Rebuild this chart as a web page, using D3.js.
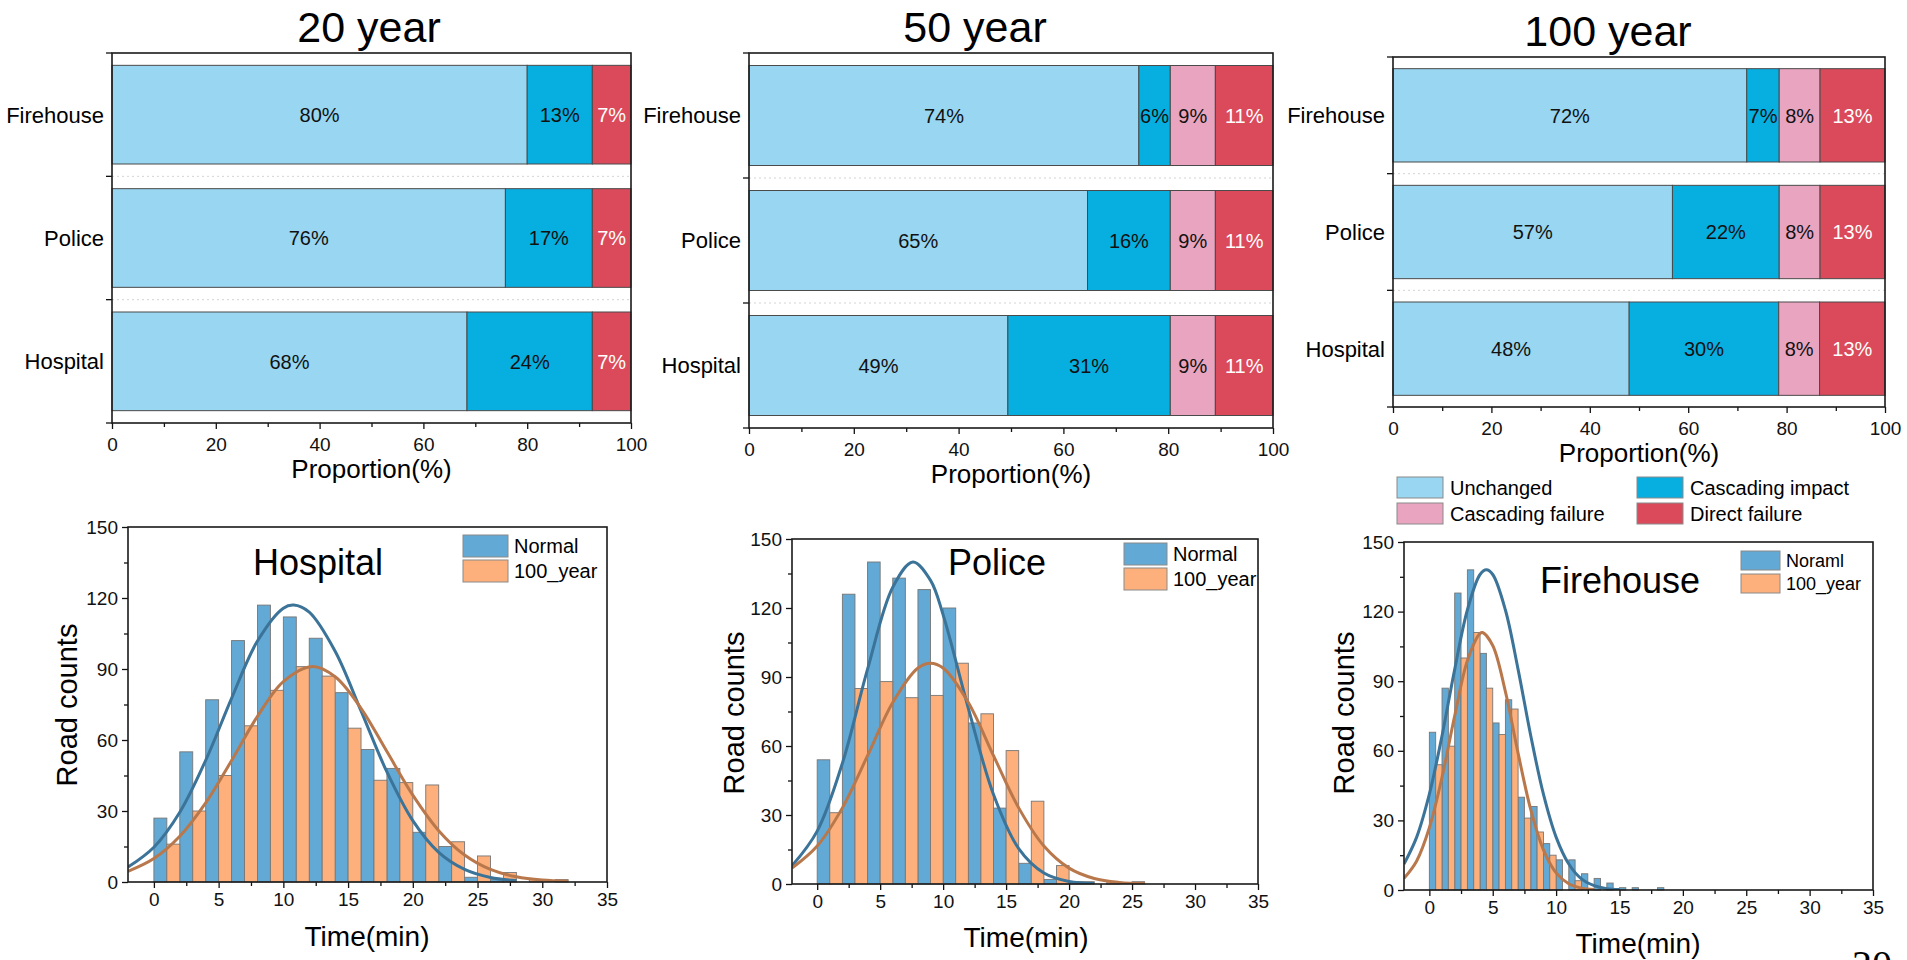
<!DOCTYPE html>
<html>
<head>
<meta charset="utf-8">
<script src="https://cdn.jsdelivr.net/npm/d3@7"></script>
<style>
body { margin: 0; background: #fff; }
svg { display: block; font-family: "Liberation Sans", Arial, sans-serif; }
</style>
</head>
<body>
<svg id="fig" width="1907" height="960"></svg>
<script>
// ---- data ----
var categories = ["Firehouse", "Police", "Hospital"];
var impactTypes = ["Unchanged", "Cascading impact", "Cascading failure", "Direct failure"];
var impactColors = ["#98d6f1", "#07aee0", "#e9a5c0", "#db4a5a"];

// proportion (%) per category, in impactTypes order
var year20 = [[80.0, 12.55, 0, 7.45], [75.8, 16.75, 0, 7.45], [68.4, 24.15, 0, 7.45]];
var year50 = [[74.4, 6.0, 8.6, 11.0], [64.6, 15.8, 8.6, 11.0], [49.4, 31.0, 8.6, 11.0]];
var year100 = [[71.9, 6.6, 8.3, 13.2], [56.8, 21.7, 8.3, 13.2], [48.0, 30.4, 8.3, 13.3]];

// road counts per time bin (bin i starts at i * binWidth minutes)
var hospitalBin = 2;
var hospitalNormal = [27, 55, 77, 102, 117, 112, 103, 80, 56, 48, 21, 15, 2, 1, 0, 0];
var hospitalFlood = [16, 30, 45, 66, 81, 91, 87, 65, 43, 42, 41, 17, 11, 4, 1, 1];
var policeBin = 2;
var policeNormal = [54, 126, 140, 133, 128, 120, 70, 33, 9, 2, 1, 0, 0];
var policeFlood = [31, 85, 88, 81, 82, 96, 74, 58, 36, 8, 1, 1, 1];
var firehouseBin = 1;
var firehouseNormal = [68, 87, 128, 138, 102, 72, 82, 40, 36, 20, 13, 13, 7, 5, 3, 1, 1, 0, 1];
var firehouseFlood = [54, 62, 100, 111, 87, 67, 78, 31, 25, 15, 0, 4, 0, 0, 0, 0, 0, 0, 0];

// fitted curves: [time, count]
var hospitalNormalFit = [[-2, 6.3], [0, 14.7], [2, 29.5], [4, 51.4], [6, 77.6], [8, 101.8], [10, 115.7], [10.8, 117],
  [12, 114], [14, 97.5], [16, 72.3], [18, 46.5], [20, 25.9], [22, 12.5], [24, 5.3], [26, 1.9], [28, 0.6]];
var hospitalFloodFit = [[-2, 4.5], [0, 9.9], [2, 19.3], [4, 33.4], [6, 51.3], [8, 70], [10, 84.7], [12.2, 91],
  [14, 86.7], [16, 73.4], [18, 55.1], [20, 36.7], [22, 21.7], [24, 11.4], [26, 5.3], [28, 2.2], [30, 0.8], [32, 0.3]];
var policeNormalFit = [[-2, 7.9], [0, 23], [2, 52.5], [4, 93.4], [6, 129], [7.6, 140], [9, 132], [10, 117],
  [12, 76.4], [14, 38.9], [16, 15.4], [18, 4.8], [20, 1.1], [22, 0.2]];
var policeFloodFit = [[-2, 6.9], [0, 16.5], [2, 33.1], [4, 55.8], [6, 78.9], [8, 93.9], [9, 96], [10, 93.9],
  [12, 78.9], [14, 55.8], [16, 33.1], [18, 16.5], [20, 6.9], [22, 2.4], [24, 0.7], [26, 0.2]];
var firehouseNormalFit = [[-2, 11.2], [-1, 22.8], [0, 41.3], [1, 66.5], [2, 95.1], [3, 120.7], [4, 136], [4.5, 138],
  [5, 136], [6, 120.7], [7, 95.1], [8, 66.5], [9, 41.3], [10, 22.8], [11, 11.2], [12, 4.8], [13, 1.9], [14, 0.6], [15, 0.2]];
var firehouseFloodFit = [[-2, 5.0], [-1, 12.5], [0, 26.8], [1, 48.6], [2, 75.1], [3, 98.8], [4, 110.6], [4.2, 111],
  [5, 105.4], [6, 85.5], [7, 59], [8, 34.6], [9, 17.3], [10, 7.4], [11, 2.7], [12, 0.8], [13, 0.2]];

var xTicksProp = [0, 20, 40, 60, 80, 100];
var xTicksTime = [0, 5, 10, 15, 20, 25, 30, 35];
var yTicksCount = [0, 30, 60, 90, 120, 150];

var svg = d3.select("#fig");

function styleAxis(sel, size) {
  sel.select(".domain").remove();
  sel.attr("font-family", null).attr("font-size", null);
  sel.selectAll("line").attr("stroke", "#111").attr("stroke-width", 1.3);
  sel.selectAll("text").attr("fill", "#111").attr("font-size", size);
}

function drawStacked(cfg) {
  var x = d3.scaleLinear().domain([0, 100]).range([cfg.left, cfg.right]);
  var y = d3.scaleBand().domain(categories).range([cfg.top, cfg.bottom])
      .paddingInner(0.2).paddingOuter(0.1);
  var g = svg.append("g");

  var table = categories.map(function(c, i) {
    var row = {cat: c};
    impactTypes.forEach(function(k, j) { row[k] = cfg.rows[i][j]; });
    return row;
  });
  var series = d3.stack().keys(impactTypes)(table);

  // faint dotted separators between bands
  var seps = [1, 2].map(function(k) { return cfg.top + y.step() * k; });
  g.selectAll(".sep").data(seps).enter().append("line")
      .attr("x1", cfg.left).attr("x2", cfg.right)
      .attr("y1", function(d) { return d; }).attr("y2", function(d) { return d; })
      .attr("stroke", "#d4d4d4").attr("stroke-dasharray", "2,3");

  var segs = [];
  series.forEach(function(s) {
    s.forEach(function(p) {
      if (p[1] - p[0] > 0) segs.push({key: s.index, cat: p.data.cat, x0: p[0], x1: p[1]});
    });
  });

  g.selectAll(".seg").data(segs).enter().append("rect")
      .attr("x", function(d) { return x(d.x0); })
      .attr("width", function(d) { return x(d.x1) - x(d.x0); })
      .attr("y", function(d) { return y(d.cat); })
      .attr("height", y.bandwidth())
      .attr("fill", function(d) { return impactColors[d.key]; })
      .attr("stroke", "#4a4a4a").attr("stroke-width", 1);

  g.selectAll(".lab").data(segs).enter().append("text")
      .attr("x", function(d) { return x((d.x0 + d.x1) / 2); })
      .attr("y", function(d) { return y(d.cat) + y.bandwidth() / 2; })
      .attr("dy", "0.36em")
      .attr("text-anchor", "middle")
      .attr("font-size", 20)
      .attr("fill", function(d) { return d.key == 3 ? "#fff" : "#111"; })
      .text(function(d) { return Math.round(d.x1 - d.x0) + "%"; });

  // category labels
  g.selectAll(".cat").data(categories).enter().append("text")
      .attr("x", cfg.left - 8)
      .attr("y", function(d) { return y(d) + y.bandwidth() / 2; })
      .attr("dy", "0.36em")
      .attr("text-anchor", "end")
      .attr("font-size", 22)
      .text(function(d) { return d; });

  // band ticks on left
  var bt = [cfg.top, seps[0], seps[1], cfg.bottom];
  g.selectAll(".bt").data(bt).enter().append("line")
      .attr("x1", cfg.left - 6).attr("x2", cfg.left)
      .attr("y1", function(d) { return d; }).attr("y2", function(d) { return d; })
      .attr("stroke", "#111").attr("stroke-width", 1.3);

  var ax = g.append("g").attr("transform", "translate(0," + cfg.bottom + ")")
      .call(d3.axisBottom(x).tickValues(xTicksProp).tickSize(6).tickPadding(9));
  styleAxis(ax, 19);
  var axm = g.append("g").attr("transform", "translate(0," + cfg.bottom + ")")
      .call(d3.axisBottom(x).tickValues([10, 30, 50, 70, 90]).tickSize(4).tickFormat(""));
  styleAxis(axm, 19);

  g.append("rect")
      .attr("x", cfg.left).attr("y", cfg.top)
      .attr("width", cfg.right - cfg.left).attr("height", cfg.bottom - cfg.top)
      .attr("fill", "none").attr("stroke", "#1a1a1a").attr("stroke-width", 1.6);

  g.append("text")
      .attr("x", cfg.titleX).attr("y", cfg.titleY)
      .attr("text-anchor", "middle").attr("font-size", 43)
      .text(cfg.title);

  g.append("text")
      .attr("x", (cfg.left + cfg.right) / 2).attr("y", cfg.bottom + 55)
      .attr("text-anchor", "middle").attr("font-size", 26)
      .text("Proportion(%)");
}

function drawHist(cfg) {
  var x = d3.scaleLinear().domain([-2, 35]).range([cfg.left, cfg.right]);
  var y = d3.scaleLinear().domain([0, 150]).range([cfg.bottom, cfg.top]);
  var g = svg.append("g");
  var clipId = "clip" + cfg.left;
  g.append("clipPath").attr("id", clipId).append("rect")
      .attr("x", cfg.left).attr("y", cfg.top)
      .attr("width", cfg.right - cfg.left).attr("height", cfg.bottom - cfg.top);

  var bw = cfg.bin;
  var bars = [];
  cfg.normal.forEach(function(v, i) { if (v > 0) bars.push({x0: i * bw, x1: i * bw + bw / 2, v: v, c: "#62a9d5"}); });
  cfg.flood.forEach(function(v, i) { if (v > 0) bars.push({x0: i * bw + bw / 2, x1: (i + 1) * bw, v: v, c: "#fdb07b"}); });

  g.selectAll(".bar").data(bars).enter().append("rect")
      .attr("x", function(d) { return x(d.x0); })
      .attr("width", function(d) { return x(d.x1) - x(d.x0); })
      .attr("y", function(d) { return y(d.v); })
      .attr("height", function(d) { return y(0) - y(d.v); })
      .attr("fill", function(d) { return d.c; })
      .attr("stroke", "#767676").attr("stroke-width", 0.9);

  var line = d3.line()
      .x(function(d) { return x(d[0]); })
      .y(function(d) { return y(d[1]); })
      .curve(d3.curveCatmullRom.alpha(0.5));
  var cg = g.append("g").attr("clip-path", "url(#" + clipId + ")");
  cg.append("path").attr("d", line(cfg.normalFit))
      .attr("fill", "none").attr("stroke", "#3b7399").attr("stroke-width", 3);
  cg.append("path").attr("d", line(cfg.floodFit))
      .attr("fill", "none").attr("stroke", "#b9784c").attr("stroke-width", 3);

  var ay = g.append("g").attr("transform", "translate(" + cfg.left + ",0)")
      .call(d3.axisLeft(y).tickValues(yTicksCount).tickSize(6).tickPadding(4));
  styleAxis(ay, 19);
  var aym = g.append("g").attr("transform", "translate(" + cfg.left + ",0)")
      .call(d3.axisLeft(y).tickValues([15, 45, 75, 105, 135]).tickSize(4).tickFormat(""));
  styleAxis(aym, 19);
  var ax = g.append("g").attr("transform", "translate(0," + cfg.bottom + ")")
      .call(d3.axisBottom(x).tickValues(xTicksTime).tickSize(6).tickPadding(5));
  styleAxis(ax, 19);
  var axm = g.append("g").attr("transform", "translate(0," + cfg.bottom + ")")
      .call(d3.axisBottom(x).tickValues([2.5, 7.5, 12.5, 17.5, 22.5, 27.5, 32.5]).tickSize(4).tickFormat(""));
  styleAxis(axm, 19);

  g.append("rect")
      .attr("x", cfg.left).attr("y", cfg.top)
      .attr("width", cfg.right - cfg.left).attr("height", cfg.bottom - cfg.top)
      .attr("fill", "none").attr("stroke", "#1a1a1a").attr("stroke-width", 1.6);

  g.append("text")
      .attr("x", cfg.titleX).attr("y", cfg.titleY)
      .attr("text-anchor", "middle").attr("font-size", 36)
      .text(cfg.title);

  // legend inside the plot
  var names = [cfg.normalName, "100_year"];
  var cols = ["#62a9d5", "#fdb07b"];
  names.forEach(function(n, i) {
    var ly = cfg.legY + i * cfg.legStep;
    g.append("rect").attr("x", cfg.legX).attr("y", ly)
        .attr("width", cfg.legW).attr("height", cfg.legH)
        .attr("fill", cols[i]).attr("stroke", "#8a8a8a").attr("stroke-width", 1);
    g.append("text").attr("x", cfg.legX + cfg.legW + 6).attr("y", ly + cfg.legH / 2)
        .attr("dy", "0.36em").attr("font-size", cfg.legFont).text(n);
  });

  g.append("text")
      .attr("transform", "translate(" + cfg.yLabX + "," + cfg.yLabY + ") rotate(-90)")
      .attr("text-anchor", "middle").attr("font-size", 29)
      .text("Road counts");
  g.append("text")
      .attr("x", cfg.xLabX).attr("y", cfg.xLabY)
      .attr("text-anchor", "middle").attr("font-size", 28)
      .text("Time(min)");
}

drawStacked({rows: year20, title: "20 year", left: 112, right: 631, top: 53, bottom: 423, titleX: 369, titleY: 42});
drawStacked({rows: year50, title: "50 year", left: 749, right: 1273, top: 53, bottom: 428, titleX: 975, titleY: 42});
drawStacked({rows: year100, title: "100 year", left: 1393, right: 1885, top: 57, bottom: 407, titleX: 1608, titleY: 46});

// shared legend for the stacked bars
var legend = svg.append("g");
impactTypes.forEach(function(t, i) {
  var lx = i % 2 == 0 ? 1397 : 1637;
  var ly = i < 2 ? 477 : 503;
  legend.append("rect").attr("x", lx).attr("y", ly).attr("width", 46).attr("height", 21)
      .attr("fill", impactColors[i]).attr("stroke", "#8a8a8a").attr("stroke-width", 1);
  legend.append("text").attr("x", lx + 53).attr("y", ly + 10.5).attr("dy", "0.36em")
      .attr("font-size", 20).text(t);
});

drawHist({title: "Hospital", normal: hospitalNormal, flood: hospitalFlood, bin: hospitalBin,
  normalFit: hospitalNormalFit, floodFit: hospitalFloodFit, normalName: "Normal",
  left: 128, right: 607, top: 527, bottom: 882, titleX: 318, titleY: 575,
  legX: 463, legY: 535, legStep: 25, legW: 45, legH: 22, legFont: 20,
  yLabX: 77, yLabY: 705, xLabX: 367, xLabY: 946});
drawHist({title: "Police", normal: policeNormal, flood: policeFlood, bin: policeBin,
  normalFit: policeNormalFit, floodFit: policeFloodFit, normalName: "Normal",
  left: 792, right: 1258, top: 539, bottom: 884, titleX: 997, titleY: 575,
  legX: 1124, legY: 543, legStep: 25, legW: 43, legH: 22, legFont: 20,
  yLabX: 744, yLabY: 713, xLabX: 1026, xLabY: 947});
drawHist({title: "Firehouse", normal: firehouseNormal, flood: firehouseFlood, bin: firehouseBin,
  normalFit: firehouseNormalFit, floodFit: firehouseFloodFit, normalName: "Noraml",
  left: 1404, right: 1873, top: 542, bottom: 890, titleX: 1620, titleY: 593,
  legX: 1741, legY: 551, legStep: 23, legW: 39, legH: 19, legFont: 18,
  yLabX: 1354, yLabY: 713, xLabX: 1638, xLabY: 953});

// page number cut by the bottom edge, as in the source
svg.append("text").attr("x", 1852).attr("y", 978)
    .attr("font-family", "Liberation Serif, serif").attr("font-size", 40)
    .text("20");
</script>
</body>
</html>
